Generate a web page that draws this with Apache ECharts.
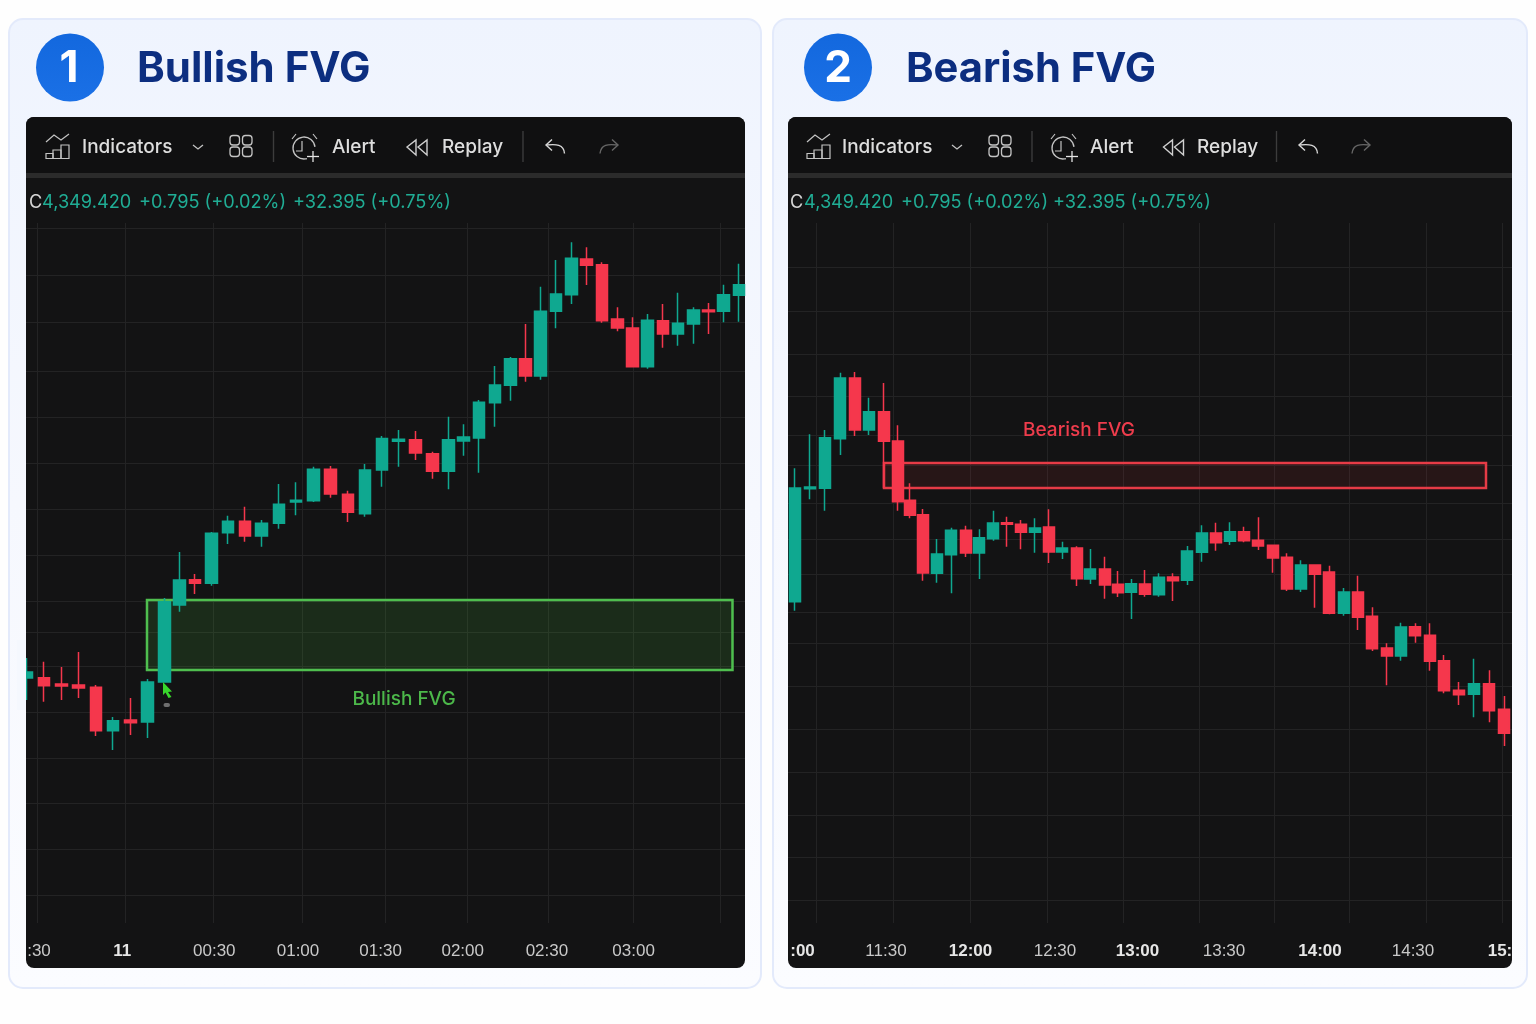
<!DOCTYPE html>
<html><head><meta charset="utf-8"><style>html,body{margin:0;padding:0;background:#fefefe}#c{width:1536px;height:1024px}</style>
<script src="https://cdn.jsdelivr.net/npm/echarts@6/dist/echarts.min.js"></script></head><body><div id="c"></div>
<script>
// ---- Panel 1: Bullish FVG (x = time position on the chart's time scale, prices as read)
const bullTimes=[2.67,4.4,6.13,7.87,9.6,11.3,13.03,14.77,16.47,17.93,19.5,21.13,22.8,24.5,26.17,27.9,29.6,31.37,33.07,34.8,36.5,38.2,39.87,41.57,43.27,44.87,46.37,47.9,49.5,51.03,52.53,54.07,55.6,57.17,58.67,60.2,61.73,63.23,64.73,66.3,67.8,69.33,70.83,72.33,73.9];
const bullOpen=[4282.2,4282.23,4281.6,4281.5,4281.27,4276.93,4278.0,4277.8,4281.8,4289.5,4292.03,4291.67,4296.73,4297.87,4296.4,4297.67,4299.8,4299.93,4303.07,4300.57,4298.63,4303.0,4305.87,4306.03,4304.63,4302.87,4305.9,4306.2,4309.73,4311.47,4314.13,4312.4,4318.87,4320.53,4324.1,4323.53,4318.1,4317.2,4313.33,4317.93,4316.6,4317.6,4319.0,4318.87,4320.47];
const bullClose=[4282.8,4281.43,4281.4,4281.2,4276.93,4277.93,4277.73,4281.8,4289.83,4292.0,4291.67,4296.67,4297.87,4296.4,4297.67,4299.57,4299.97,4303.07,4300.6,4298.77,4303.0,4306.15,4306.07,4304.7,4302.87,4306.03,4306.3,4309.77,4311.5,4314.13,4312.4,4318.87,4320.6,4324.17,4323.47,4317.93,4317.2,4313.33,4317.97,4316.6,4317.67,4319.0,4318.83,4320.53,4321.53];
const bullLow=[4280.0,4279.83,4280.0,4280.2,4276.4,4275.0,4276.5,4276.2,4281.8,4288.83,4290.6,4291.43,4295.6,4295.83,4295.33,4297.13,4298.47,4299.8,4300.23,4297.8,4298.33,4301.33,4303.33,4304.0,4302.13,4301.07,4304.43,4302.73,4307.33,4309.93,4311.83,4312.03,4317.17,4319.6,4321.5,4317.73,4316.87,4313.33,4313.13,4315.23,4315.43,4315.63,4316.6,4317.77,4317.83];
const bullHigh=[4284.2,4283.83,4283.3,4284.8,4281.5,4278.3,4280.2,4282.1,4290.2,4294.8,4292.6,4296.8,4298.43,4299.33,4298.0,4301.6,4301.77,4303.33,4303.4,4300.93,4303.6,4306.4,4307.0,4306.9,4304.83,4308.33,4307.57,4310.0,4313.4,4314.3,4317.6,4321.33,4324.0,4325.77,4325.27,4323.77,4319.27,4318.27,4318.6,4319.6,4320.73,4319.27,4319.7,4321.53,4323.63];
const bullGridTimes=[3.7,12.5,21.3,30.2,38.5,46.7,54.8,63.3,72.0];
const bullGridPrices=[4327.2,4322.5,4317.8,4312.9,4308.3,4303.7,4299.1,4294.5,4289.9,4286.8,4283.4,4278.8,4274.2,4269.7,4265.1,4260.5];
const bullLabelTimes=[3.9,12.23,21.43,29.8,38.06,46.27,54.69,63.36];
const bullLabels=[":30","11","00:30","01:00","01:30","02:00","02:30","03:00"];
const bullBoldLabels=["11"];
const bullZone=[14.7,73.25,4290.0,4283.0];

// ---- Panel 2: Bearish FVG
const bearTimes=[79.47,81.0,82.5,84.03,85.5,86.9,88.37,89.8,91.0,92.3,93.7,95.13,96.57,97.93,99.33,100.7,102.07,103.47,104.87,106.23,107.67,109.03,110.47,111.8,113.13,114.5,115.9,117.3,118.73,120.17,121.57,123.0,124.4,125.83,127.27,128.67,130.07,131.5,132.93,134.37,135.8,137.23,138.67,140.1,141.53,142.97,144.4,145.9,147.4,148.93,150.43];
const bearOpen=[4289.83,4301.13,4301.17,4306.13,4312.2,4307.0,4308.83,4305.9,4299.97,4298.53,4292.67,4294.53,4296.97,4294.7,4296.13,4297.73,4297.57,4296.77,4297.3,4294.8,4295.2,4292.1,4293.1,4291.57,4290.77,4291.6,4290.53,4292.3,4291.97,4294.77,4296.7,4295.87,4296.83,4295.97,4295.47,4294.27,4291.1,4293.5,4292.8,4288.67,4290.8,4288.37,4285.2,4284.4,4287.33,4286.47,4283.93,4280.97,4280.57,4281.63,4279.07];
const bearClose=[4301.2,4301.3,4306.23,4312.2,4307.0,4308.83,4305.87,4299.83,4298.47,4292.7,4294.6,4296.97,4294.7,4296.23,4297.7,4297.57,4296.77,4297.2,4294.8,4295.2,4292.13,4293.1,4291.5,4290.73,4291.63,4290.57,4292.27,4291.93,4294.9,4296.7,4295.73,4296.83,4295.93,4295.4,4294.2,4291.1,4293.5,4292.57,4288.67,4290.8,4288.27,4285.13,4284.4,4287.3,4286.43,4283.87,4280.93,4280.53,4281.63,4278.93,4276.67];
const bearLow=[4288.93,4300.07,4298.93,4304.5,4306.4,4306.5,4301.2,4298.93,4298.17,4291.93,4291.73,4290.67,4294.3,4292.1,4295.93,4295.33,4295.07,4294.73,4293.7,4294.1,4291.4,4291.6,4290.13,4290.3,4288.1,4290.33,4290.33,4289.9,4291.5,4293.83,4294.93,4295.5,4295.77,4295.0,4292.73,4290.9,4290.8,4289.23,4288.57,4288.43,4287.0,4284.9,4281.47,4283.93,4285.73,4282.93,4280.67,4279.5,4278.27,4277.77,4275.4];
const bearHigh=[4303.17,4306.57,4307.0,4312.73,4312.8,4310.23,4311.7,4307.47,4301.67,4299.1,4296.1,4297.23,4297.43,4297.07,4298.93,4298.33,4298.0,4298.17,4299.07,4295.83,4295.37,4295.1,4294.33,4292.9,4292.1,4293.0,4292.67,4292.67,4295.4,4297.47,4297.73,4297.77,4297.33,4298.27,4295.47,4294.67,4293.97,4293.57,4293.43,4291.2,4292.43,4289.27,4285.67,4287.73,4287.67,4287.67,4284.5,4281.8,4284.13,4282.97,4280.4];
const bearGridTimes=[81.6,89.3,97.0,104.7,112.3,119.9,127.4,134.9,142.6,150.2];
const bearGridPrices=[4323.3,4318.9,4314.6,4310.4,4306.5,4303.5,4299.7,4296.1,4292.6,4288.8,4285.7,4281.4,4277.1,4272.8,4268.5,4264.3,4260.0];
const bearLabelTimes=[80.25,88.6,97.05,105.5,113.75,122.4,132.0,141.3,150.0];
const bearLabels=[":00","11:30","12:00","12:30","13:00","13:30","14:00","14:30","15:"];
const bearBoldLabels=[":00","12:00","13:00","14:00","15:"];
const bearZone=[88.4,148.6,4303.7,4301.2];

const priceMax=4327.7, priceMin=4257.7;
const legendText=["4,349.420","+0.795 (+0.02%)","+32.395 (+0.75%)"];

const UP='#0fa890', DOWN='#f5374c', GRID='#232324';
const rows=(t,o,c,l,h)=>t.map((x,i)=>[x,o[i],c[i],l[i],h[i]]);
const LABEL_FONT='"Liberation Sans",Arial,sans-serif', UI_FONT='Inter,"Noto Sans",sans-serif';

function xAxisFor(idx,min,max,gridT,labelT,labels,bold){
  return {type:'value',gridIndex:idx,min,max,position:'bottom',
    axisLine:{show:false},
    axisTick:{show:false,customValues:gridT},
    splitLine:{show:true,lineStyle:{color:GRID,width:1}},
    axisLabel:{show:true,customValues:labelT,margin:20,color:'#c9c9c9',fontSize:17,fontFamily:LABEL_FONT,hideOverlap:false,
      showMinLabel:true,showMaxLabel:true,
      formatter:v=>{const i=labelT.indexOf(v);const s=labels[i];return bold.includes(s)?'{b|'+s+'}':s;},
      rich:{b:{fontWeight:700,color:'#e6e6e6',fontSize:17,fontFamily:LABEL_FONT}}}};
}
function yAxisFor(idx,gridP){
  return {type:'value',gridIndex:idx,min:priceMin,max:priceMax,position:'right',
    axisLine:{show:false},axisLabel:{show:false},
    axisTick:{show:false,customValues:gridP},
    splitLine:{show:true,lineStyle:{color:GRID,width:1}}};
}
function candle(idx,data,zone,boxCol,fill,labelText,labelCoord,labelCol,w){
  return {type:'candlestick',name:labelText,xAxisIndex:idx,yAxisIndex:idx,data,barWidth:w,clip:true,silent:true,
    itemStyle:{color:UP,color0:DOWN,borderColor:UP,borderColor0:DOWN,borderWidth:1.5},
    markArea:{silent:true,z:1,itemStyle:{color:fill,borderColor:boxCol,borderWidth:2.5},label:{show:false},
      data:[[{coord:[zone[0],zone[2]]},{coord:[zone[1],zone[3]]}]]},
    markPoint:{silent:true,symbol:'circle',symbolSize:0,
      label:{show:true,position:'inside',formatter:labelText,color:labelCol,fontSize:19,fontWeight:500,fontFamily:UI_FONT},
      data:[{coord:labelCoord}]}};
}

// ---- decorative page furniture
const T=(text,x,y,size,fill,weight,fam)=>({type:'text',silent:true,z:5,style:{text,x,y,fontSize:size,fontWeight:weight||400,fontFamily:fam||UI_FONT,fill,align:'left',verticalAlign:'middle'}});
const PL=(pts,stroke,width)=>({type:'polyline',silent:true,z:5,shape:{points:pts},style:{stroke,lineWidth:width||1.3,fill:'none'}});
const Ln=(x1,y1,x2,y2,s,w)=>({type:'line',silent:true,z:5,shape:{x1,y1,x2,y2},style:{stroke:s,lineWidth:w||1.3}});
const Rr=(x,y,w,h,r,fill,stroke,lw,z)=>({type:'rect',silent:true,z:z==null?-5:z,shape:{x,y,width:w,height:h,r},style:{fill,stroke:stroke||'none',lineWidth:lw||0}});

function toolbar(o){
  const ic='#c4c4c4',tx='#dedede',els=[];
  const a=o.icon;
  // indicators icon
  els.push(PL([[a,142],[a+8,135],[a+15,140],[a+23,134]],ic,1.2));
  [[0,153.5,7],[7,150,8],[15,145,8]].forEach(b=>els.push(Rr(a+b[0],b[1],b[2],158.5-b[1],0,'none',ic,1.2,5)));
  els.push(T('Indicators',o.ind,147.5,o.indSize,tx,500));
  els.push(PL([[o.chev,145],[o.chev+5,149],[o.chev+10,145]],ic,1.3));
  // grid icon
  [[0,0],[12.5,0],[0,11.5],[12.5,11.5]].forEach(b=>els.push(Rr(o.grid+b[0],135.5+b[1],9.5,9.5,3,'none',ic,1.3,5)));
  els.push(Ln(o.sep1,131,o.sep1,162,'#3c3c3c',1.4));
  // alarm
  const c=o.alarm;
  els.push({type:'arc',silent:true,z:5,shape:{cx:c,cy:148,r:11,startAngle:-0.1,endAngle:1.3,clockwise:false},style:{stroke:ic,lineWidth:1.3,fill:'none'}});
  els.push(PL([[c-2,141],[c-2,151],[c-8,151]],ic,1.2));
  els.push(Ln(c-12,139,c-8,134,ic,1.2),Ln(c+9,134,c+13,139,ic,1.2));
  els.push(Ln(c+9,151,c+9,162,'#e4e4e4',1.3),Ln(c+3,156.5,c+15,156.5,'#e4e4e4',1.3));
  els.push(T('Alert',o.alert,147.5,o.alertSize,tx,500));
  // rewind
  const r=o.rew;
  els.push({type:'polygon',silent:true,z:5,shape:{points:[[r,147],[r+9,140],[r+9,155]]},style:{stroke:'#d0d0d0',lineWidth:1.4,fill:'none'}});
  els.push({type:'polygon',silent:true,z:5,shape:{points:[[r+11,147],[r+20,140],[r+20,155]]},style:{stroke:'#d0d0d0',lineWidth:1.4,fill:'none'}});
  els.push(T('Replay',o.rep,147.5,o.repSize,tx,500));
  els.push(Ln(o.sep2,131,o.sep2,162,'#3c3c3c',1.4));
  // undo / redo
  const u=o.undo;
  els.push(PL([[u+6,139.5],[u,145],[u+6,150.5]],'#d8d8d8',1.4));
  els.push({type:'bezierCurve',silent:true,z:5,shape:{x1:u,y1:145,cpx1:u+10,cpy1:144,cpx2:u+18,cpy2:144,x2:u+18.5,y2:153.5},style:{stroke:'#d8d8d8',lineWidth:1.4,fill:'none'}});
  const d=o.redo;
  els.push(PL([[d+12,139.5],[d+18,145],[d+12,150.5]],'#666',1.4));
  els.push({type:'bezierCurve',silent:true,z:5,shape:{x1:d+18,y1:145,cpx1:d+8,cpy1:144,cpx2:d+1,cpy2:144,x2:d,y2:153.5},style:{stroke:'#666',lineWidth:1.4,fill:'none'}});
  // status line
  els.push(T('C',o.c,202.5,18.2,'#d6d6d6',400));
  legendText.forEach((s,i)=>els.push(T(s,o.leg[i],202.5,18.2,'#20ad95',400)));
  return els;
}
const cardFill={type:'linear',x:0,y:0,x2:0,y2:1,colorStops:[{offset:0,color:'#eff4fe'},{offset:.5,color:'#f6f8fe'},{offset:1,color:'#fbfcff'}]};
const blue={type:'linear',x:0,y:0,x2:0,y2:1,colorStops:[{offset:0,color:'#1368de'},{offset:1,color:'#1a70e6'}]};
function frame(cardX,cardW,panelX,panelW,cx){
  return [
    Rr(cardX,19,cardW,969,14,cardFill,'#e3eafb',2,-10),
    Rr(panelX,117,panelW,851,8,'#131314',null,0,-9),
    Rr(panelX,117,panelW,56,8,'#101011',null,0,-8),
    Rr(panelX,167,panelW,6,0,'#101011',null,0,-8),
    Rr(panelX,173,panelW,5,0,'#2b2b2b',null,0,-7),
    {type:'circle',silent:true,z:4,shape:{cx,cy:67.5,r:34},style:{fill:blue}}
  ];
}
const arrow=[[163,682],[172,691.5],[168,692],[171.5,697],[168.5,698],[165.5,692.5],[163,695]];

const graphics=[
  ...frame(9,752,26,719,70),...frame(773,754,788,724,838),
  {type:'text',silent:true,z:5,style:{text:'1',x:69,y:69,fontSize:44,fontWeight:700,fontFamily:UI_FONT,fill:'#fff',align:'center',verticalAlign:'middle'}},
  {type:'text',silent:true,z:5,style:{text:'2',x:838,y:69,fontSize:44,fontWeight:700,fontFamily:UI_FONT,fill:'#fff',align:'center',verticalAlign:'middle'}},
  ...toolbar({icon:46,ind:82,indSize:19,chev:193,grid:230,sep1:273.5,alarm:304,alert:332,alertSize:19,rew:407,rep:442,repSize:19,sep2:523,undo:546,redo:600,c:29,leg:[42,139,293]}),
  ...toolbar({icon:807,ind:842,indSize:19,chev:952,grid:989,sep1:1032,alarm:1063,alert:1090,alertSize:19,rew:1163.5,rep:1197,repSize:19,sep2:1276.5,undo:1299,redo:1352,c:790,leg:[804,901,1053]}),
  {type:'polygon',silent:true,z:30,shape:{points:arrow},style:{fill:'#38d62c'}},
  Rr(163.5,703,6.5,4,2,'#6f6f6f',null,0,30),
  // candle cut off by the panel's left edge
  Rr(17,640,9,70,0,'#f5f8fe',null,0,30)
];

const option={
  animation:false,backgroundColor:'#fefefe',
  title:[
    {text:'Bullish FVG',left:132,top:43,textStyle:{color:'#0c2e80',fontSize:42,fontWeight:700,fontFamily:UI_FONT}},
    {text:'Bearish FVG',left:901,top:43,textStyle:{color:'#0c2e80',fontSize:41.7,fontWeight:700,fontFamily:UI_FONT}}
  ],
  grid:[{left:26,top:223,width:719,height:700},{left:788,top:223,width:724,height:700}],
  xAxis:[xAxisFor(0,2.6,74.5,bullGridTimes,bullLabelTimes,bullLabels,bullBoldLabels),
         xAxisFor(1,78.8,151.2,bearGridTimes,bearLabelTimes,bearLabels,bearBoldLabels)],
  yAxis:[yAxisFor(0,bullGridPrices),yAxisFor(1,bearGridPrices)],
  series:[
    candle(0,rows(bullTimes,bullOpen,bullClose,bullLow,bullHigh),bullZone,'#4fbe4f','rgba(70,170,60,0.17)','Bullish FVG',[40.4,4280.1],'#4cb84a',12),
    candle(1,rows(bearTimes,bearOpen,bearClose,bearLow,bearHigh),bearZone,'#e63b46','rgba(220,50,60,0.10)','Bearish FVG',[107.9,4307.0],'#ee3c4c',11.5)
  ],
  graphic:{elements:graphics}
};
echarts.init(document.getElementById('c')).setOption(option);
</script></body></html>
